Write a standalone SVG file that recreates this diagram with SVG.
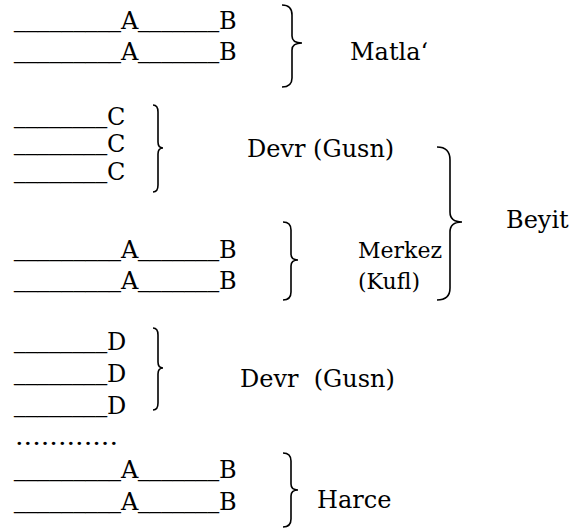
<svg xmlns="http://www.w3.org/2000/svg" width="571" height="529" viewBox="0 0 571 529">
<style>
text{font-family:"DejaVu Serif","Liberation Serif",serif;font-size:24px;fill:#000}
.u{font-family:"Liberation Serif",serif}
.m{font-size:22px}
.br{fill:none;stroke:#000;stroke-width:1.6}
</style>
<rect width="571" height="529" fill="#fff"/>
<g id="matla">
<text y="29"><tspan class="u" x="14" textLength="107" lengthAdjust="spacingAndGlyphs">_________</tspan><tspan x="121">A</tspan><tspan class="u" x="138" textLength="81" lengthAdjust="spacingAndGlyphs">_______</tspan><tspan x="219">B</tspan></text>
<text y="60"><tspan class="u" x="14" textLength="107" lengthAdjust="spacingAndGlyphs">_________</tspan><tspan x="121">A</tspan><tspan class="u" x="138" textLength="81" lengthAdjust="spacingAndGlyphs">_______</tspan><tspan x="219">B</tspan></text>
<path class="br" d="M282,5 Q292,5 292,15 L292,36 Q292,43 302,43 Q292,43 292,50 L292,78 Q292,87 282,87"/>
<text x="350" y="60">Matla‘</text>
</g>
<g id="devr1">
<text y="125"><tspan class="u" x="14" textLength="93" lengthAdjust="spacingAndGlyphs">________</tspan><tspan x="107">C</tspan></text>
<text y="152"><tspan class="u" x="14" textLength="93" lengthAdjust="spacingAndGlyphs">________</tspan><tspan x="107">C</tspan></text>
<text y="180"><tspan class="u" x="14" textLength="93" lengthAdjust="spacingAndGlyphs">________</tspan><tspan x="107">C</tspan></text>
<path class="br" d="M153,105 Q158,105 158,112 L158,142 Q158,148 163,148 Q158,148 158,154 L158,185 Q158,192 153,192"/>
<text x="247" y="157">Devr (Gusn)</text>
</g>
<g id="merkez">
<text y="258"><tspan class="u" x="14" textLength="107" lengthAdjust="spacingAndGlyphs">_________</tspan><tspan x="121">A</tspan><tspan class="u" x="138" textLength="81" lengthAdjust="spacingAndGlyphs">_______</tspan><tspan x="219">B</tspan></text>
<text y="289"><tspan class="u" x="14" textLength="107" lengthAdjust="spacingAndGlyphs">_________</tspan><tspan x="121">A</tspan><tspan class="u" x="138" textLength="81" lengthAdjust="spacingAndGlyphs">_______</tspan><tspan x="219">B</tspan></text>
<path class="br" d="M283,222 Q291,222 291,230 L291,254 Q291,260 298,260 Q291,260 291,266 L291,292 Q291,300 283,300"/>
<text class="m" x="358" y="258">Merkez</text>
<text class="m" x="358" y="289">(Kufl)</text>
</g>
<g id="beyit">
<path class="br" d="M437,147 Q450,147 450,160 L450,212 Q450,222 462,222 Q450,222 450,232 L450,288 Q450,300 437,300"/>
<text x="506" y="228">Beyit</text>
</g>
<g id="devr2">
<text y="350"><tspan class="u" x="14" textLength="93" lengthAdjust="spacingAndGlyphs">________</tspan><tspan x="107">D</tspan></text>
<text y="382"><tspan class="u" x="14" textLength="93" lengthAdjust="spacingAndGlyphs">________</tspan><tspan x="107">D</tspan></text>
<text y="414"><tspan class="u" x="14" textLength="93" lengthAdjust="spacingAndGlyphs">________</tspan><tspan x="107">D</tspan></text>
<path class="br" d="M153,328 Q158,328 158,335 L158,362 Q158,368 163,368 Q158,368 158,374 L158,403 Q158,410 153,410"/>
<text x="240" y="387" xml:space="preserve">Devr  (Gusn)</text>
</g>
<g id="harce">
<text x="15" y="445" textLength="103" lengthAdjust="spacingAndGlyphs">............</text>
<text y="478"><tspan class="u" x="14" textLength="107" lengthAdjust="spacingAndGlyphs">_________</tspan><tspan x="121">A</tspan><tspan class="u" x="138" textLength="81" lengthAdjust="spacingAndGlyphs">_______</tspan><tspan x="219">B</tspan></text>
<text y="510"><tspan class="u" x="14" textLength="107" lengthAdjust="spacingAndGlyphs">_________</tspan><tspan x="121">A</tspan><tspan class="u" x="138" textLength="81" lengthAdjust="spacingAndGlyphs">_______</tspan><tspan x="219">B</tspan></text>
<path class="br" d="M283,453 Q291,453 291,461 L291,484 Q291,490 298,490 Q291,490 291,496 L291,519 Q291,527 283,527"/>
<text x="317" y="508">Harce</text>
</g>
</svg>
